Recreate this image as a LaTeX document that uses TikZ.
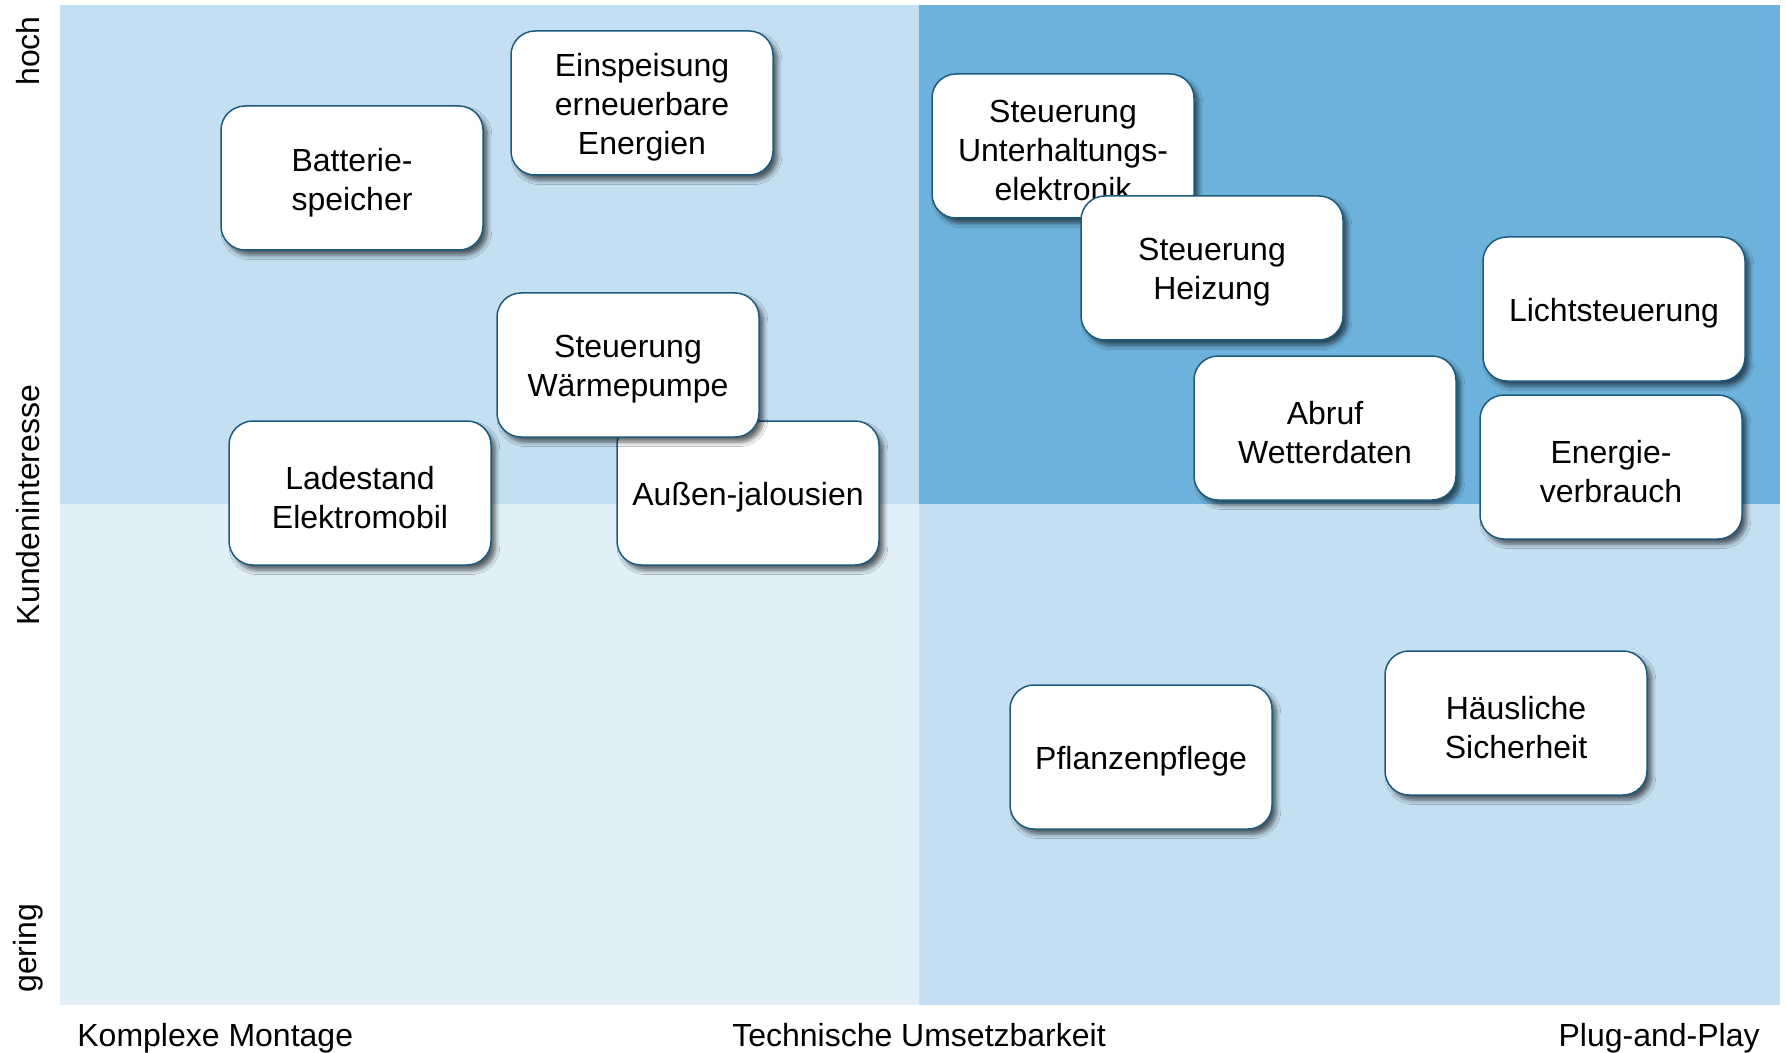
\documentclass[tikz,border=0pt]{standalone}
\usepackage{fontspec}
\setmainfont{Liberation Sans}
\usetikzlibrary{shadows.blur}
\definecolor{quadLight}{HTML}{C4DFF1}
\definecolor{quadPale}{HTML}{E0EFF8}
\definecolor{quadDark}{HTML}{6DB2DC}
\definecolor{cardEdge}{HTML}{1D5B7E}
% a card: rounded white box with its caption set slightly below centre
\newcommand\quadcard[3]{%
  \node[cardbox] (#1) at (#2) {};
  \node[cardtext] (#1-text) at ([yshift=-2.2pt]#1.center) {#3};}
\begin{document}
\begin{tikzpicture}[x=0.5pt,y=-0.5pt,
  cardbox/.style={draw=cardEdge, line width=0.75pt, fill=white,
    rounded corners=12pt, minimum width=131pt, minimum height=72pt,
    inner sep=0pt,
    blur shadow={shadow xshift=2.2pt, shadow yshift=-2.6pt,
      shadow blur radius=2.2pt, shadow blur steps=6, shadow opacity=60}},
  cardtext/.style={align=center, inner sep=0pt,
    font=\fontsize{16}{19.5}\selectfont},
  axislabel/.style={font=\fontsize{16}{19.5}\selectfont, inner sep=0pt}]
\useasboundingbox (0,0) rectangle (1786,1053);
\fill[white] (0,0) rectangle (1786,1053);
% quadrants
\fill[quadLight] (60,5) rectangle (919,504);
\fill[quadDark]  (919,5) rectangle (1780,504);
\fill[quadPale]  (60,504) rectangle (919,1005);
\fill[quadLight] (919,504) rectangle (1780,1005);
% axis labels
\node[axislabel, rotate=90, anchor=east] (hoch) at (28,16) {hoch};
\node[axislabel, rotate=90] (kunde) at (28,505) {Kundeninteresse};
\node[axislabel, rotate=90, anchor=west] (gering) at (28,993) {gering};
\node[axislabel, anchor=base west] (komplex) at (77,1046) {Komplexe Montage};
\node[axislabel, anchor=base] (technik) at (919,1046) {Technische Umsetzbarkeit};
\node[axislabel, anchor=base east] (plug) at (1760,1046) {Plug-and-Play};
% cards
\quadcard{batterie}{352,178}{Batterie-\\speicher}
\quadcard{einspeisung}{642,103}{Einspeisung\\erneuerbare\\Energien}
\quadcard{ladestand}{360,493}{Ladestand\\Elektromobil}
\quadcard{jalousien}{748,493}{Außen-jalousien}
\quadcard{waerme}{628,365}{Steuerung\\Wärmepumpe}
\quadcard{unterhaltung}{1063,146}{Steuerung\\Unterhaltungs-\\elektronik}
\quadcard{heizung}{1212,268}{Steuerung\\Heizung}
\quadcard{licht}{1614,309}{Lichtsteuerung}
\quadcard{wetter}{1325,428}{Abruf\\Wetterdaten}
\quadcard{energie}{1611,467}{Energie-\\verbrauch}
\quadcard{pflanzen}{1141,757}{Pflanzenpflege}
\quadcard{sicherheit}{1516,723}{Häusliche\\Sicherheit}
\end{tikzpicture}
\end{document}
